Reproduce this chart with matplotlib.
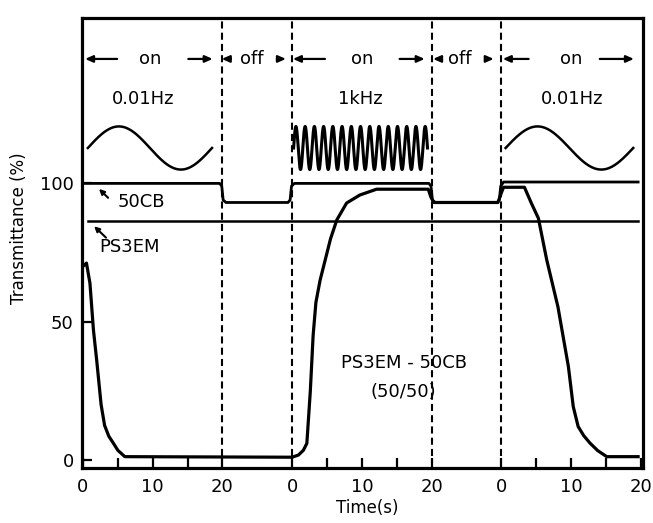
import numpy as np
import matplotlib
matplotlib.use("Agg")
import matplotlib.pyplot as plt

# time axis: three 20 s "on" periods separated by two 10 s "off" periods
# (continuous time 0..80 s, relabelled 0,10,20 for each on period)
tick_pos = [0, 10, 20, 30, 40, 50, 60, 70, 80]
tick_lab = ['0', '10', '20', '0', '10', '20', '0', '10', '20']
minor_pos = [5, 15, 35, 45, 65, 75]
switch_t = [20, 30, 50, 60]  # dashed lines

# PS3EM-50CB (50/50) blend
t_blend = [0.0, 0.5, 1.0, 1.5, 1.96, 2.6, 3.1, 3.7, 4.35, 5.0, 6.0,
           30.0, 30.9, 31.6, 32.1, 32.6, 33.0, 33.4, 34.0, 34.7, 35.5, 36.4, 37.8,
           39.7, 42.1,
           49.5, 49.9, 50.3, 59.5, 59.9, 60.3, 63.3, 64.3, 65.3, 66.5, 68.1,
           69.6, 70.3, 71.0, 71.8, 72.7, 73.8, 75.1, 79.6]
T_blend = [70.0, 71.2, 63.9, 47.0, 36.2, 20.0, 12.5, 8.6, 6.1, 3.5, 1.2,
           1.0, 1.8, 3.5, 6.0, 25.0, 45.0, 57.0, 65.0, 72.0, 80.0, 86.8, 92.9,
           95.8, 97.9,
           97.9, 95.0, 93.1, 93.1, 96.0, 98.6, 98.6, 92.8, 87.4, 72.3, 55.4,
           33.8, 19.3, 12.1, 8.8, 6.1, 3.4, 1.2, 1.2]

# 50CB alone
t_50cb = [0, 19.6, 19.9, 20.1, 20.5, 29.4, 29.7, 29.9, 30.3, 49.6, 49.9, 50.1,
          50.5, 59.4, 59.7, 59.9, 60.3, 79.6]
T_50cb = [100, 100, 99, 94, 93.1, 93.1, 94, 99, 100, 100, 99, 94,
          93.1, 93.1, 94, 99, 100.5, 100.5]

# PS3EM alone (flat)
t_ps3em = [0.7, 79.6]
T_ps3em = [86.5, 86.5]

# drive signal sketches: (start, end, cycles)
drive = [(0.7, 18.5, 1.0), (30.2, 49.4, 14.5), (60.6, 78.9, 1.0)]
drive_mid = 112.8
drive_amp = 7.8
drive_lab = ['0.01Hz', '1kHz', '0.01Hz']
drive_lab_t = [8.6, 39.7, 70.2]

phase_lab = ['on', 'off', 'on', 'off', 'on']
phase_lab_t = [9.6, 24.2, 40.0, 54.0, 70.0]
# (tail, head) of the arrows either side of each phase label
phase_arrows = [(4.9, 0.3), (15.1, 18.6), (21.2, 19.9), (27.8, 29.1),
                (34.7, 30.1), (45.4, 49.0), (51.3, 50.2), (57.9, 58.9),
                (63.9, 60.2), (74.1, 79.0)]

fig = plt.figure(figsize=(6.53, 5.23), dpi=100)
ax = fig.add_axes([82/653, 1-468/523, (643-82)/653, (468-18)/523])

ax.plot(t_blend, T_blend, color='black', lw=2.3, solid_joinstyle='round')
ax.plot(t_50cb, T_50cb, color='black', lw=2.0, solid_joinstyle='round')
ax.plot(t_ps3em, T_ps3em, color='black', lw=1.8)

for (a, b, n) in drive:
    tt = np.linspace(a, b, int(400*n) if n > 2 else 200)
    ax.plot(tt, drive_mid + drive_amp*np.sin(2*np.pi*n*(tt-a)/(b-a)),
            color='black', lw=1.8 if n < 2 else 2.2)

for x in switch_t:
    ax.plot([x, x], [1.5, 159.8], color='black', lw=1.5, ls=(0, (3.4, 2.0)))

row = 145
for lab, x in zip(phase_lab, phase_lab_t):
    ax.text(x, row, lab, ha='center', va='center', fontsize=13)
for tail, head in phase_arrows:
    ax.annotate('', xy=(head, row), xytext=(tail, row),
                arrowprops=dict(arrowstyle='-|>,head_length=0.45,head_width=0.2',
                                color='black', lw=1.6, shrinkA=0, shrinkB=0))

for lab, x in zip(drive_lab, drive_lab_t):
    ax.text(x, 130.5, lab, ha='center', va='center', fontsize=13)

ax.text(4.9, 93.3, '50CB', ha='left', va='center', fontsize=13)
ax.annotate('', xy=(2.3, 98.0), xytext=(3.6, 94.8),
            arrowprops=dict(arrowstyle='-|>,head_length=0.3,head_width=0.15',
                            color='black', lw=1.5, shrinkA=0, shrinkB=0))
ax.text(2.4, 77.0, 'PS3EM', ha='left', va='center', fontsize=13)
ax.annotate('', xy=(1.6, 84.5), xytext=(3.3, 80.4),
            arrowprops=dict(arrowstyle='-|>,head_length=0.3,head_width=0.15',
                            color='black', lw=1.5, shrinkA=0, shrinkB=0))

ax.text(46.0, 35.0, 'PS3EM - 50CB', ha='center', va='center', fontsize=13)
ax.text(46.0, 24.6, '(50/50)', ha='center', va='center', fontsize=13)

ax.set_xlim(-0.14, 80.3)
ax.set_ylim(-2.9, 159.8)
ax.set_xticks(tick_pos)
ax.set_xticklabels(tick_lab)
ax.set_xticks(minor_pos, minor=True)
ax.set_yticks([0, 50, 100])
ax.tick_params(axis='both', which='both', direction='in', length=7, width=1.6,
               labelsize=13, pad=7)
ax.tick_params(axis='y', pad=6)
for s in ax.spines.values():
    s.set_linewidth(2.3)

fig.text(19/653, 1-228/523, 'Transmittance (%)', rotation=90, ha='center',
         va='center', fontsize=12)
fig.text(367/653, 1-508/523, 'Time(s)', ha='center', va='center', fontsize=12)

fig.savefig('out.png', dpi=100)
